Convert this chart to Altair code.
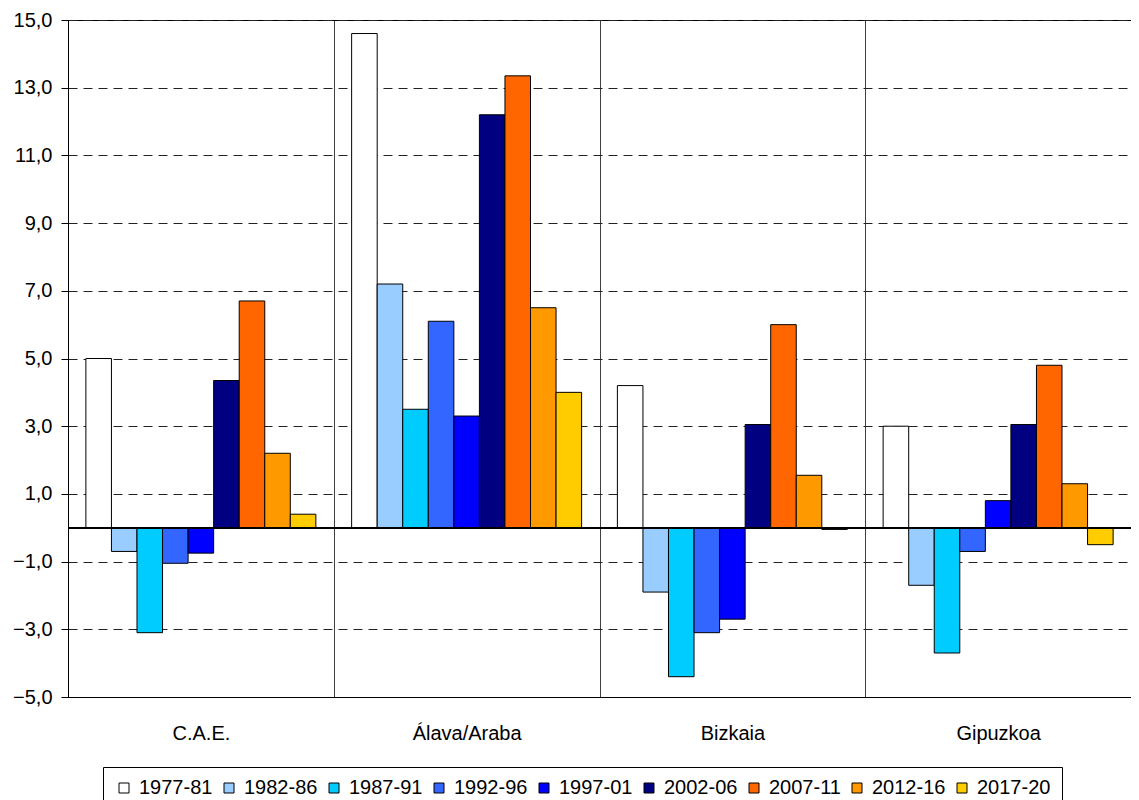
import altair as alt
import pandas as pd

regions = ["C.A.E.", "Álava/Araba", "Bizkaia", "Gipuzkoa"]
periods = ["1977-81", "1982-86", "1987-91", "1992-96", "1997-01",
           "2002-06", "2007-11", "2012-16", "2017-20"]
colors = ["#FFFFFF", "#99CCFF", "#00CCFF", "#3366FF", "#0000FF",
          "#000080", "#FF6600", "#FF9900", "#FFCC00"]

cae = [5.0, -0.7, -3.1, -1.05, -0.75, 4.35, 6.7, 2.2, 0.4]
alava = [14.6, 7.2, 3.5, 6.1, 3.3, 12.2, 13.35, 6.5, 4.0]
bizkaia = [4.2, -1.9, -4.4, -3.1, -2.7, 3.05, 6.0, 1.55, -0.05]
gipuzkoa = [3.0, -1.7, -3.7, -0.7, 0.8, 3.05, 4.8, 1.3, -0.5]

y_ticks = [-5, -3, -1, 1, 3, 5, 7, 9, 11, 13, 15]

rows = []
for reg, vals in zip(regions, [cae, alava, bizkaia, gipuzkoa]):
    for p, v in zip(periods, vals):
        rows.append({"region": reg, "period": p, "value": v})
df = pd.DataFrame(rows)

FONT = "Liberation Sans"

bars = alt.Chart(df).mark_bar(stroke="black", strokeWidth=1, opacity=1).encode(
    x=alt.X("region:N", sort=regions, title=None,
            scale=alt.Scale(paddingInner=0, paddingOuter=0),
            axis=alt.Axis(labelAngle=0, ticks=False, tickBand="extent", grid=True,
                          gridColor="black", gridDash=[1, 0], gridWidth=1,
                          gridOpacity=1, labelPadding=26, domainColor="black",
                          labelFontSize=20)),
    xOffset=alt.XOffset("period:N", sort=periods,
                        scale=alt.Scale(paddingInner=0, paddingOuter=0.7)),
    y=alt.Y("value:Q", title=None,
            scale=alt.Scale(domain=[-5, 15], nice=False, zero=False),
            axis=alt.Axis(values=y_ticks, grid=True, gridDash=[9, 6],
                          gridColor="#222", gridOpacity=1, gridWidth=1,
                          tickSize=7, tickColor="black", domainColor="black",
                          labelPadding=9, labelFontSize=20,
                          labelExpr="replace(format(datum.value, '.1f'), '.', ',')")),
    color=alt.Color("period:N", sort=periods,
                    scale=alt.Scale(domain=periods, range=colors),
                    legend=alt.Legend(title=None, orient="none", direction="horizontal",
                                      columns=9, legendX=35, legendY=747,
                                      symbolType="square", symbolSize=100,
                                      symbolStrokeColor="black", symbolStrokeWidth=1,
                                      labelFontSize=20, labelFont=FONT,
                                      labelColor="black", columnPadding=6,
                                      symbolOffset=0, labelOffset=5,
                                      strokeColor="black", padding=11,
                                      fillColor="white")),
)

zero = alt.Chart(df).mark_rule(color="black", strokeWidth=1).encode(y=alt.datum(0))

chart = alt.layer(bars, zero).properties(
    width=1063, height=677,
    autosize=alt.AutoSizeParams(type="none"),
    padding={"left": 60, "top": 12, "right": 0, "bottom": 110},
    background="white",
).configure_view(
    stroke="black", strokeWidth=1
).configure_axis(
    labelFont=FONT, labelColor="black", domainWidth=1
)

chart.save("out.html", embed_options={"renderer": "svg", "actions": False})
